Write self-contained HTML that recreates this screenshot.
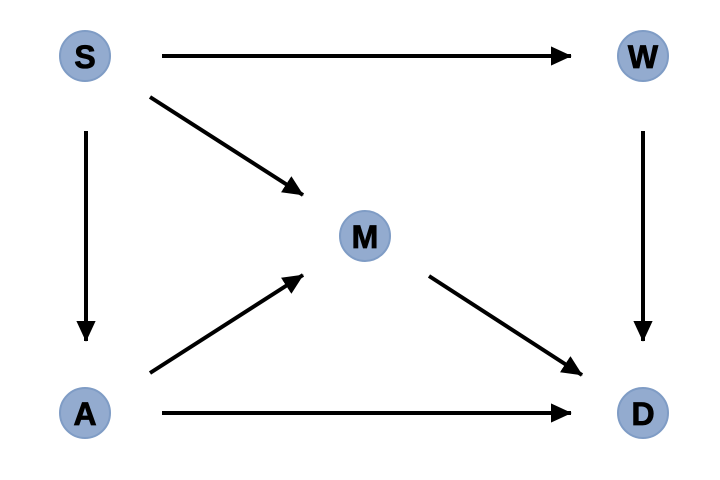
<!DOCTYPE html>
<html><head><style>body{margin:0;background:#fff}svg{display:block}</style></head><body>
<svg width="720" height="480" viewBox="0 0 720 480" xmlns="http://www.w3.org/2000/svg">
<defs><marker id="a" markerWidth="5.2" markerHeight="4.8" refX="5" refY="2.4" orient="auto" markerUnits="strokeWidth"><path d="M0,0 L5.2,2.4 L0,4.8 z" fill="#000"/></marker></defs>
<g stroke="#000" stroke-width="4" marker-end="url(#a)" fill="none">
<line x1="162" y1="56" x2="571" y2="56"/>
<line x1="150" y1="97" x2="303" y2="195"/>
<line x1="86" y1="131" x2="86" y2="341"/>
<line x1="643" y1="131" x2="643" y2="341"/>
<line x1="150" y1="373" x2="303" y2="275"/>
<line x1="429" y1="276" x2="582" y2="375"/>
<line x1="162" y1="413" x2="571" y2="413"/>
</g>
<g fill="#93abcf" stroke="#7f9cc5" stroke-width="2">
<circle cx="85" cy="56" r="25"/><circle cx="643" cy="56" r="25"/><circle cx="365" cy="236" r="25"/><circle cx="85" cy="413" r="25"/><circle cx="643" cy="413" r="25"/>
</g>
<g font-family="Liberation Sans, sans-serif" font-weight="bold" font-size="32" text-anchor="middle" fill="#000" stroke="#000" stroke-width="0.8">
<text x="85" y="68">S</text><text x="643" y="68">W</text><text x="365" y="248">M</text><text x="85" y="425">A</text><text x="643" y="425">D</text>
</g>
</svg>
</body></html>
